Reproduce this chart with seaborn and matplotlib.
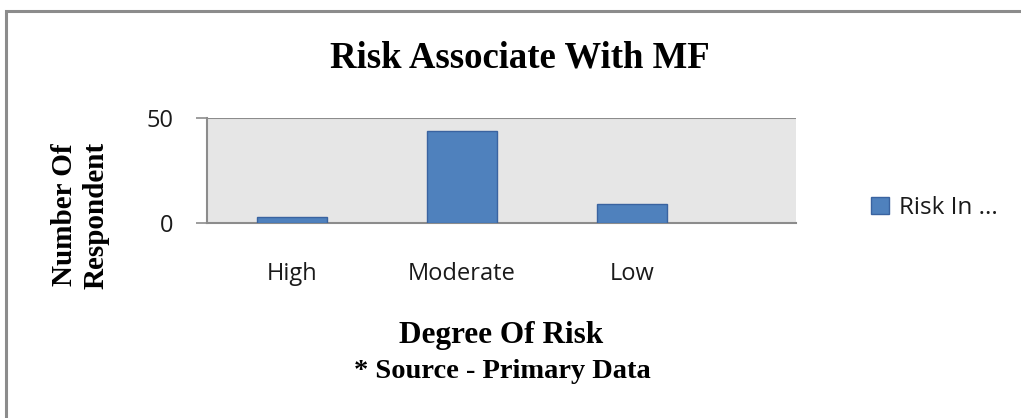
import matplotlib
matplotlib.use("Agg")
import matplotlib.pyplot as plt
import matplotlib.patches as mpatches
import seaborn as sns
import pandas as pd

# Survey data: perceived risk of mutual funds
categories = ["High", "Moderate", "Low"]
respondents = [3, 44, 9]
series_name = "Risk In ..."
y_ticks = [0, 50]

df = pd.DataFrame({"Degree": categories, "Count": respondents})

sns.set_theme(style="white")
plt.rcParams["font.family"] = ["DejaVu Sans"]

fig = plt.figure(figsize=(10.21, 4.18), dpi=100)
fig.patch.set_facecolor("white")

# Outer chart frame
frame = mpatches.Rectangle((5.5 / 1021, -0.1), 1.2, 1 - 10.5 / 418 + 0.1,
                           transform=fig.transFigure, fill=False,
                           edgecolor="#8c8c8c", linewidth=2.2, zorder=0)
fig.patches.append(frame)

ax = fig.add_axes([207 / 1021, 1 - 223 / 418, (796 - 207) / 1021, (223 - 118) / 418])
ax.set_facecolor("#e6e6e6")

sns.barplot(data=df, x="Degree", y="Count", ax=ax, color="#4f81bd",
            width=0.41, saturation=1, edgecolor="#3a63a0", linewidth=1.0,
            zorder=3)

ax.set_ylim(0, 50)
ax.set_xlim(-0.5, 2.965)
ax.set_yticks(y_ticks)
ax.set_yticklabels([str(v) for v in y_ticks], fontsize=17, fontfamily="Open Sans",
                   color="#1a1a1a")
ax.set_xticks(range(len(categories)))
ax.set_xticklabels(categories, fontsize=17, fontfamily="Open Sans", color="#1a1a1a")
ax.tick_params(axis="y", which="both", left=True, length=8, width=1.2,
               color="#8c8c8c", pad=16, direction="out")
ax.tick_params(axis="x", which="both", bottom=False, pad=22)

# Horizontal gridline at the top value
ax.axhline(50, color="#8c8c8c", linewidth=1.5, zorder=1)

for side in ["top", "right"]:
    ax.spines[side].set_visible(False)
for side in ["left", "bottom"]:
    ax.spines[side].set_color("#8c8c8c")
    ax.spines[side].set_linewidth(1.5)

ax.set_xlabel("")
ax.set_ylabel("")

serif = "Liberation Serif"
fig.text(520 / 1021, 1 - 58 / 418, "Risk Associate With MF", ha="center", va="center",
         fontsize=26.5, fontweight="bold", fontfamily=serif, color="black")
fig.text(80 / 1021, 1 - 215 / 418, "Number Of\nRespondent", ha="center", va="center",
         rotation=90, fontsize=21, fontweight="bold", fontfamily=serif, linespacing=1.2,
         color="black")
fig.text(501 / 1021, 1 - 336 / 418, "Degree Of Risk", ha="center", va="center",
         fontsize=22.5, fontweight="bold", fontfamily=serif, color="black")
fig.text(502 / 1021, 1 - 371 / 418, "* Source - Primary Data", ha="center", va="center",
         fontsize=20.5, fontweight="bold", fontfamily=serif, color="black")

# Legend
handle = mpatches.Patch(facecolor="#4f81bd", edgecolor="#3a63a0", label=series_name)
leg = fig.legend(handles=[handle], loc="center left",
                 bbox_to_anchor=(849 / 1021, 1 - 208 / 418),
                 frameon=False, prop={"family": "Open Sans", "size": 17.5},
                 handlelength=0.75, handleheight=0.75, handletextpad=0.4)
for t in leg.get_texts():
    t.set_color("#1a1a1a")

fig.savefig("out.png", dpi=100, facecolor="white")
